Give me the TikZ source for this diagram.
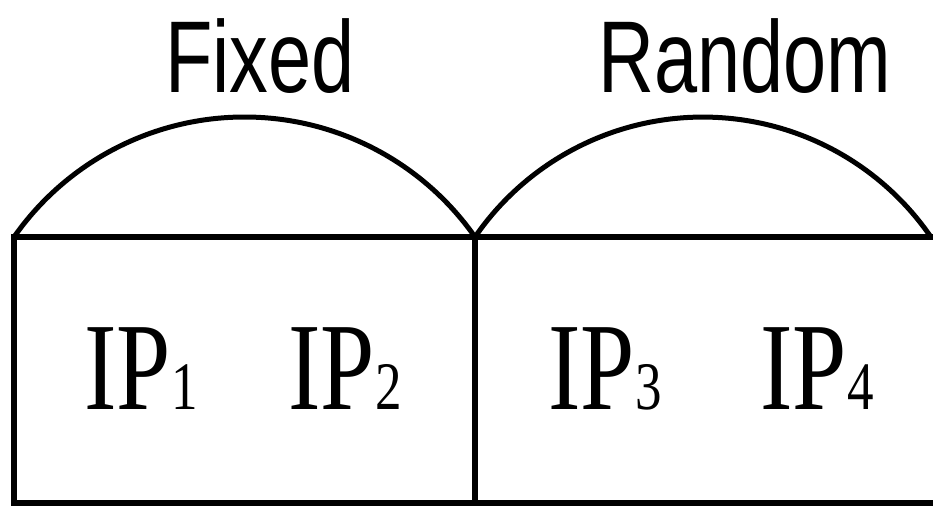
\documentclass[tikz,border=0pt]{standalone}
\usepackage{fontspec}
\newfontfamily\lblfont[FakeStretch=0.76]{Liberation Sans}
\newfontfamily\ipfont[FakeStretch=0.78]{Liberation Serif}
\newcommand{\ipsub}[1]{{\fontsize{68}{68}\selectfont #1}}
\begin{document}
\begin{tikzpicture}[x=1pt,y=1pt,
  edge/.style={line width=5.5pt, line cap=rect},
  arcline/.style={line width=5pt},
  toplabel/.style={font=\lblfont\fontsize{102}{102}\selectfont, anchor=base, inner sep=0pt},
  iplabel/.style={font=\ipfont\fontsize{125}{125}\selectfont, anchor=base, inner sep=0pt}]
\useasboundingbox (0,0) rectangle (933,506);
\coordinate (TL) at (14,269);
\coordinate (TM) at (475,269);
\coordinate (TR) at (940,269);
\coordinate (BL) at (14,3);
\coordinate (BM) at (475,3);
\coordinate (BR) at (940,3);
% box lines
\draw[edge] (TL) -- (TR);
\draw[edge] (TL) -- (BL);
\draw[edge] (TM) -- (BM);
\draw[edge] (BL) -- (BR);
% arcs
\draw[arcline] (TL) arc[start angle=145, end angle=35, radius=281.4];
\draw[arcline] (TM) arc[start angle=145.5, end angle=34.5, radius=276.6];
% labels
\node[toplabel] (fixed) at (260,413) {Fixed};
\node[toplabel] (random) at (745,413) {Random};
\node[iplabel] (ip1) at (141,97) {IP\ipsub{1}};
\node[iplabel] (ip2) at (345,97) {IP\ipsub{2}};
\node[iplabel] (ip3) at (605,97) {IP\ipsub{3}};
\node[iplabel] (ip4) at (817,97) {IP\ipsub{4}};
\end{tikzpicture}
\end{document}
